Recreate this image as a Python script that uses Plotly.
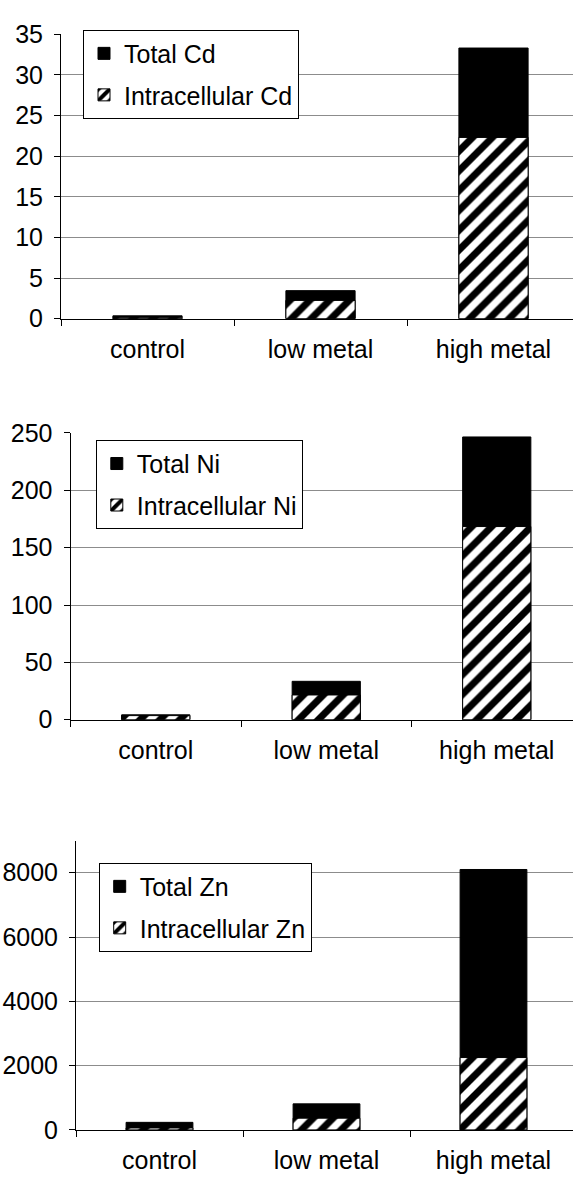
import plotly.graph_objects as go

categories = ["control", "low metal", "high metal"]

cd_total = [0.35, 3.45, 33.3]
cd_intra = [0.1, 2.25, 22.3]
ni_total = [4.3, 33.5, 246.5]
ni_intra = [3.6, 21.6, 168.4]
zn_total = [235, 810, 8100]
zn_intra = [60, 365, 2250]

panels = [
    ("Cd", cd_total, cd_intra, [0, 35], list(range(0, 36, 5))),
    ("Ni", ni_total, ni_intra, [0, 250], list(range(0, 251, 50))),
    ("Zn", zn_total, zn_intra, [0, 9000], list(range(0, 8001, 2000))),
]

W, H = 573, 1194
# pixel geometry of each panel: (axis x, category width, y of top, y of zero)
geom = [
    (61, 173, 20.7, 312),
    (70.5, 170.5, 429, 722.7),
    (76, 167, 846.4, 1142.7),
]
legend_pos = [(83, 16), (95.8, 436), (98.7, 869)]

FONT = "Liberation Sans, Arial, sans-serif"
fig = go.Figure()
layout = dict(
    width=W, height=H,
    margin=dict(l=0, r=0, t=0, b=0),
    paper_bgcolor="white", plot_bgcolor="white",
    barmode="overlay",
    font=dict(family=FONT, size=25, color="black"),
)

for i, (metal, total, intra, yr, yt) in enumerate(panels):
    n = "" if i == 0 else str(i + 1)
    xa, ya = "x" + n, "y" + n
    leg = "legend" + n
    fig.add_trace(go.Bar(
        x=categories, y=total, name="Total " + metal, width=0.4,
        xaxis=xa, yaxis=ya, legend=leg, legendgroup="t" + metal,
        marker=dict(color="black", line=dict(color="black", width=1)),
    ))
    fig.add_trace(go.Bar(
        x=categories, y=intra, name="Intracellular " + metal, width=0.4,
        xaxis=xa, yaxis=ya, legend=leg, legendgroup="i" + metal,
        marker=dict(color="white", line=dict(color="black", width=1),
                    pattern=dict(shape="/", fgcolor="black", bgcolor="white",
                                 fgopacity=1, size=14, solidity=0.5)),
    ))
    ax, cw, ytop, y0 = geom[i]
    xmax = -0.5 + (W - ax) / cw
    layout["xaxis" + n] = dict(
        domain=[ax / W, 1], anchor=ya, type="category",
        categoryorder="array", categoryarray=categories,
        range=[-0.5, xmax], tickson="boundaries", ticks="outside",
        ticklen=6, tickcolor="black", showline=True, linecolor="black",
        linewidth=1, showgrid=False, tickfont=dict(size=25),
        ticklabelstandoff=8,
    )
    layout["yaxis" + n] = dict(
        domain=[1 - y0 / H, 1 - ytop / H], anchor=xa, range=yr,
        tickvals=yt, ticks="outside", ticklen=6, tickcolor="black",
        showline=True, linecolor="black", linewidth=1,
        showgrid=True, gridcolor="#8c8c8c", gridwidth=1, zeroline=False,
        tickfont=dict(size=25), ticklabelstandoff=6,
    )
    lx, ly = legend_pos[i]
    layout[leg] = dict(
        x=lx / W, y=1 - ly / H, xanchor="left", yanchor="top",
        bgcolor="white", bordercolor="black", borderwidth=1,
        font=dict(size=25, family=FONT, color="black"),
        traceorder="grouped", tracegroupgap=6,
    )

fig.update_layout(**layout)
fig.write_html("out.html", config={"displayModeBar": False},
               post_script="document.body.style.margin='0';")
